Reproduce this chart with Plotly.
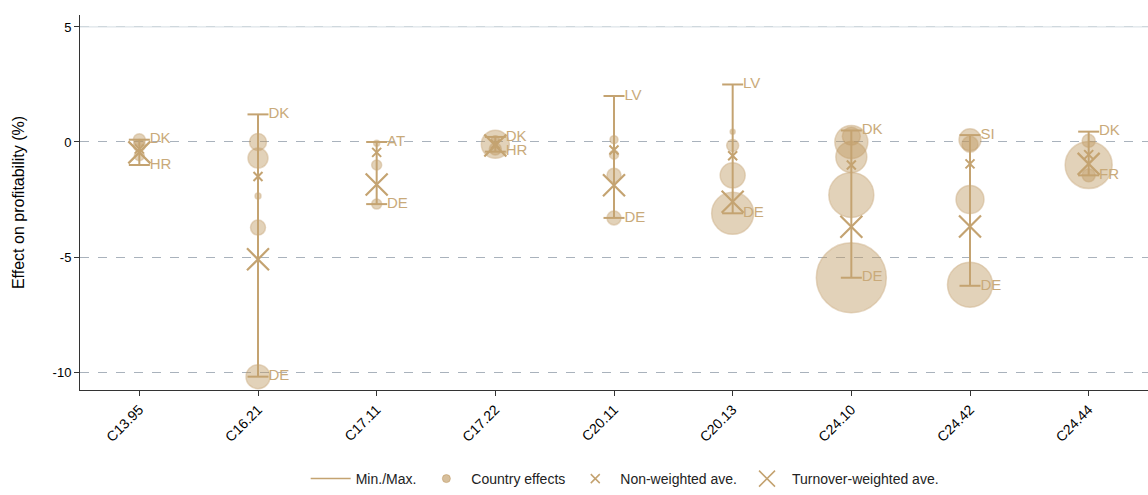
import plotly.graph_objects as go

categories = ["C13.95", "C16.21", "C17.11", "C17.22", "C20.11", "C20.13", "C24.10", "C24.42", "C24.44"]

# Min / max of country effects, and the countries at the extremes
max_vals = [0.1, 1.2, 0.0, 0.22, 2.0, 2.5, 0.5, 0.3, 0.45]
min_vals = [-1.0, -10.2, -2.7, -0.42, -3.3, -3.1, -5.9, -6.25, -1.45]
max_labels = ["DK", "DK", "AT", "DK", "LV", "LV", "DK", "SI", "DK"]
min_labels = ["HR", "DE", "DE", "HR", "DE", "DE", "DE", "DE", "FR"]

# Country effects (values) and turnover-based marker sizes, per category
country_vals = [
    [0.1, -0.15, -0.6],
    [0.0, -0.7, -2.35, -3.72, -10.2],
    [-0.05, -1.0, -2.7],
    [-0.1, -0.3, 0.1],
    [0.1, -0.55, -1.45, -3.3],
    [0.45, -0.15, -1.45, -3.1],
    [0.25, 0.0, -0.65, -2.3, -5.9],
    [0.1, -0.1, -2.5, -6.2],
    [0.05, -1.0, -1.45],
]
country_sizes = [
    [12, 12, 10],
    [17, 20, 6, 15, 24],
    [6, 10, 10],
    [28, 12, 8],
    [8, 9, 14, 14],
    [5, 12, 25, 42],
    [18, 33, 31, 45, 70],
    [22, 16, 28, 45],
    [13, 47, 13],
]

nonweighted_ave = [-0.3, -1.5, -0.45, -0.1, -0.35, -0.6, -1.0, -0.95, -0.55]
weighted_ave = [-0.45, -5.1, -1.85, -0.15, -1.88, -2.6, -3.68, -3.67, -0.95]

TAN = "rgb(196,163,113)"
TAN_FILL = "rgba(190,152,96,0.62)"
TAN_EDGE = "rgba(190,152,96,0.55)"
LABEL_TAN = "rgb(201,170,122)"
FONT = "Liberation Sans, Arial, sans-serif"

xs = list(range(len(categories)))
fig = go.Figure()

# Country effects (circles) drawn first so lines sit on top
cx, cy, cs = [], [], []
for i, (vals, sizes) in enumerate(zip(country_vals, country_sizes)):
    for v, s in zip(vals, sizes):
        cx.append(i); cy.append(v); cs.append(s)
fig.add_trace(go.Scatter(
    x=cx, y=cy, mode="markers", showlegend=False, hoverinfo="skip",
    marker=dict(size=cs, color=TAN_FILL, line=dict(color=TAN_EDGE, width=1.5)),
))

# Min/max vertical range lines
lx, ly = [], []
for i in xs:
    lx += [i, i, None]
    ly += [min_vals[i], max_vals[i], None]
fig.add_trace(go.Scatter(x=lx, y=ly, mode="lines", showlegend=False, hoverinfo="skip",
                         line=dict(color=TAN, width=2)))

# Caps with country labels
fig.add_trace(go.Scatter(
    x=xs + xs, y=max_vals + min_vals, mode="markers+text",
    text=max_labels + min_labels, textposition="middle right",
    textfont=dict(color=LABEL_TAN, size=15, family=FONT),
    marker=dict(symbol="line-ew", size=15, color=TAN, line=dict(color=TAN, width=2)),
    showlegend=False, hoverinfo="skip",
))

# Non-weighted average
fig.add_trace(go.Scatter(x=xs, y=nonweighted_ave, mode="markers", showlegend=False, hoverinfo="skip",
                         marker=dict(symbol="x-thin", size=9, color=TAN, line=dict(color=TAN, width=2))))
# Turnover-weighted average
fig.add_trace(go.Scatter(x=xs, y=weighted_ave, mode="markers", showlegend=False, hoverinfo="skip",
                         marker=dict(symbol="x-thin", size=22, color=TAN, line=dict(color=TAN, width=2.2))))

# Legend-only entries
fig.add_trace(go.Scatter(x=[None], y=[None], mode="lines", name="Min./Max.",
                         line=dict(color=TAN, width=1.5)))
fig.add_trace(go.Scatter(x=[None], y=[None], mode="markers", name="Country effects",
                         marker=dict(size=8, color=TAN_FILL, line=dict(color=TAN_EDGE, width=1))))
fig.add_trace(go.Scatter(x=[None], y=[None], mode="markers", name="Non-weighted ave.",
                         marker=dict(symbol="x-thin", size=9, color=TAN, line=dict(color=TAN, width=1.5))))
fig.add_trace(go.Scatter(x=[None], y=[None], mode="markers", name="Turnover-weighted ave.",
                         marker=dict(symbol="x-thin", size=16, color=TAN, line=dict(color=TAN, width=1.5))))

fig.update_layout(
    width=1148, height=495,
    margin=dict(l=80, r=0, t=15, b=102),
    paper_bgcolor="white", plot_bgcolor="white",
    font=dict(family=FONT, size=12, color="black"),
    legend=dict(orientation="h", x=0.51, xanchor="center", y=-0.238, yanchor="middle",
                font=dict(size=14, color="#222"), itemsizing="trace",
                traceorder="normal", itemwidth=40),
    showlegend=True,
    shapes=[dict(type="line", xref="paper", x0=0, x1=1, yref="y", y0=5, y1=5,
                 line=dict(color="#DDE4E9", width=1.3), layer="above")],
)
fig.update_xaxes(
    range=[-0.5, 8.5], tickmode="array", tickvals=xs, ticktext=categories,
    tickangle=-45, ticks="outside", ticklen=5, tickcolor="#333",
    showline=True, linecolor="#333", linewidth=1, showgrid=False, zeroline=False,
    tickfont=dict(size=14, color="black"), automargin=False,
)
fig.update_yaxes(
    range=[-10.78, 5.52], tickmode="array", tickvals=[5, 0, -5, -10], ticktext=["5", "0", "-5", "-10"],
    ticks="outside", ticklen=5, tickcolor="#333",
    showline=True, linecolor="#333", linewidth=1,
    showgrid=True, gridcolor="#A9B2BC", griddash="dash", gridwidth=1.2, zeroline=False,
    title=dict(text="Effect on profitability (%)", font=dict(size=16, color="black"), standoff=24),
    tickfont=dict(size=13, color="black"), automargin=False,
)

fig.write_html("out.html", config={"displayModeBar": False},
               post_script="document.body.style.margin='0';document.body.style.overflow='hidden';")
